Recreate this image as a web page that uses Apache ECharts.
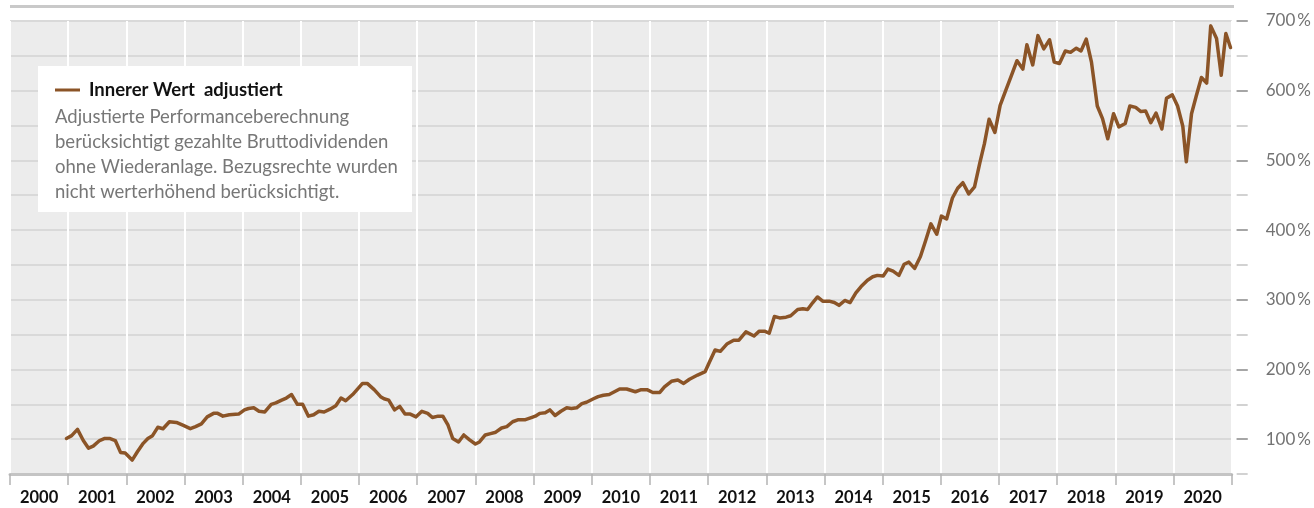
<!DOCTYPE html>
<html>
<head>
<meta charset="utf-8">
<script src="https://cdn.jsdelivr.net/npm/echarts@6.0.0/dist/echarts.min.js"></script>
<style>
  html, body { margin: 0; padding: 0; background: #fff; }
  #chart { width: 1314px; height: 508px; }
</style>
</head>
<body>
<div id="chart"></div>
<script>
// years on the bottom axis (labels sit between the year lines)
const years = ['2000', '2001', '2002', '2003', '2004', '2005', '2006', '2007', '2008', '2009', '2010',
  '2011', '2012', '2013', '2014', '2015', '2016', '2017', '2018', '2019', '2020'];

// time of each point as a decimal year
const time = [
  2000.97, 2001.06, 2001.16, 2001.26, 2001.35, 2001.43, 2001.54, 2001.63, 2001.71, 2001.81, 2001.90, 2001.98,
  2002.10, 2002.19, 2002.29, 2002.37, 2002.45, 2002.54, 2002.63, 2002.74, 2002.86, 2002.97,
  2003.10, 2003.19, 2003.29, 2003.39, 2003.50, 2003.57, 2003.66, 2003.77, 2003.93,
  2004.03, 2004.10, 2004.19, 2004.28, 2004.38, 2004.49, 2004.57, 2004.67, 2004.75, 2004.84, 2004.94,
  2005.03, 2005.13, 2005.22, 2005.31, 2005.40, 2005.50, 2005.60, 2005.69, 2005.77, 2005.89,
  2006.06, 2006.14, 2006.26, 2006.37, 2006.43, 2006.51, 2006.61, 2006.70, 2006.79, 2006.88, 2006.98,
  2007.08, 2007.18, 2007.26, 2007.36, 2007.44, 2007.53, 2007.61, 2007.71, 2007.80, 2007.90, 2008.00,
  2008.07, 2008.17, 2008.26, 2008.35, 2008.45, 2008.54, 2008.64, 2008.74, 2008.86, 2008.96,
  2009.03, 2009.11, 2009.20, 2009.28, 2009.37, 2009.47, 2009.57, 2009.65, 2009.74, 2009.83, 2009.91,
  2010.03, 2010.11, 2010.20, 2010.30, 2010.39, 2010.48, 2010.60, 2010.75, 2010.85, 2010.95,
  2011.05, 2011.17, 2011.25, 2011.37, 2011.48, 2011.58, 2011.68, 2011.82, 2011.95,
  2012.02, 2012.12, 2012.21, 2012.33, 2012.44, 2012.53, 2012.65, 2012.79, 2012.88, 2012.97,
  2013.05, 2013.14, 2013.23, 2013.34, 2013.42, 2013.54, 2013.63, 2013.71, 2013.80, 2013.88, 2013.97,
  2014.08, 2014.17, 2014.25, 2014.35, 2014.44, 2014.54, 2014.63, 2014.74, 2014.83, 2014.91,
  2015.01, 2015.09, 2015.18, 2015.28, 2015.37, 2015.45, 2015.55, 2015.65, 2015.74, 2015.83, 2015.93,
  2016.01, 2016.10, 2016.20, 2016.29, 2016.38, 2016.48, 2016.58, 2016.67, 2016.75, 2016.83, 2016.93,
  2017.02, 2017.12, 2017.21, 2017.31, 2017.41, 2017.48, 2017.58, 2017.67, 2017.77, 2017.87, 2017.95,
  2018.04, 2018.14, 2018.23, 2018.33, 2018.41, 2018.50, 2018.59, 2018.69, 2018.78, 2018.87, 2018.97,
  2019.06, 2019.17, 2019.25, 2019.35, 2019.44, 2019.52, 2019.61, 2019.70, 2019.80, 2019.88, 2019.98,
  2020.07, 2020.16, 2020.22, 2020.31, 2020.39, 2020.48, 2020.57, 2020.64, 2020.74, 2020.82, 2020.90, 2020.98
];

// Innerer Wert adjustiert, in percent
const innererWert = [
  101, 105, 114, 98, 87, 90, 98, 101, 101, 98, 81, 80,
  70, 82, 94, 101, 105, 117, 115, 125, 124, 120,
  115, 118, 122, 132, 137, 137, 133, 135, 136,
  142, 144, 145, 140, 139, 150, 152, 156, 159, 164, 150,
  150, 133, 135, 140, 139, 143, 148, 159, 155, 164,
  180, 180, 171, 161, 158, 156, 142, 147, 136, 136, 132,
  140, 137, 131, 133, 133, 120, 101, 96, 106, 99, 93,
  96, 106, 108, 110, 116, 118, 125, 128, 128, 131,
  133, 137, 138, 142, 134, 140, 145, 144, 145, 151, 153,
  158, 161, 163, 164, 168, 172, 172, 168, 171, 171,
  167, 167, 175, 183, 185, 180, 186, 192, 197,
  210, 228, 226, 237, 242, 242, 254, 248, 255, 255,
  252, 276, 274, 275, 277, 286, 287, 286, 296, 304, 298,
  298, 296, 292, 299, 296, 310, 319, 328, 333, 335,
  334, 344, 341, 335, 351, 354, 345, 362, 385, 409, 394,
  420, 416, 446, 460, 468, 452, 462, 496, 524, 559, 540,
  579, 601, 621, 643, 631, 666, 637, 679, 660, 673, 641,
  639, 657, 655, 661, 657, 674, 641, 578, 560, 531, 567,
  548, 553, 578, 576, 570, 571, 554, 568, 545, 589, 594,
  578, 549, 498, 567, 592, 619, 611, 693, 675, 622, 682, 662
];

const yLabels = [100, 200, 300, 400, 500, 600, 700];

const seriesName = 'Innerer Wert  adjustiert';
const noteLines = [
  'Adjustierte Performanceberechnung',
  'berücksichtigt gezahlte Bruttodividenden',
  'ohne Wiederanlage. Bezugsrechte wurden',
  'nicht werterhöhend berücksichtigt.'
];

const font = 'Lato, "Noto Sans", sans-serif';

const chart = echarts.init(document.getElementById('chart'));

const option = {
  animation: false,
  grid: {
    left: 10,
    right: 80,
    top: 21,
    bottom: 34,
    show: true,
    backgroundColor: '#ececec',
    borderWidth: 0
  },
  legend: {
    left: 55,
    top: 79,
    padding: 0,
    z: 20,
    icon: 'rect',
    itemWidth: 25,
    itemHeight: 3,
    data: [seriesName],
    textStyle: {
      fontFamily: font,
      fontWeight: 'bold',
      fontSize: 18.5,
      color: '#111',
      lineHeight: 22,
      padding: [0, 0, 0, 4]
    }
  },
  xAxis: [
    {
      type: 'value',
      min: 2000,
      max: 2021,
      interval: 1,
      axisLine: { show: true, lineStyle: { color: '#c4c4c4', width: 3 } },
      axisTick: { show: true, length: 11, lineStyle: { color: '#b4b4b4', width: 1.5 } },
      axisLabel: { show: false },
      splitLine: { show: true, lineStyle: { color: '#ffffff', width: 2 } }
    },
    {
      type: 'category',
      position: 'bottom',
      data: years,
      boundaryGap: true,
      axisLine: { show: false },
      axisTick: { show: false },
      splitLine: { show: false },
      axisLabel: {
        margin: 15,
        fontFamily: font,
        fontWeight: 'bold',
        fontSize: 16.5,
        color: '#111'
      }
    }
  ],
  yAxis: [
    {
      type: 'value',
      position: 'right',
      min: 50,
      max: 700,
      interval: 50,
      offset: 5,
      axisLine: { show: false },
      axisTick: { show: true, length: 11, lineStyle: { color: '#d2d2d2', width: 2 } },
      axisLabel: { show: false },
      splitLine: { show: true, lineStyle: { color: '#d9d9d9', width: 2 } }
    },
    {
      type: 'value',
      position: 'right',
      min: 50,
      max: 700,
      interval: 50,
      offset: 5,
      axisLine: { show: false },
      axisTick: { show: true, length: 11, customValues: yLabels, lineStyle: { color: '#a6a6a6', width: 2 } },
      axisLabel: {
        show: true,
        customValues: yLabels,
        margin: 29,
        fontFamily: font,
        fontSize: 17,
        color: '#737373',
        formatter: v => v + '\u2009%'
      },
      splitLine: { show: false }
    }
  ],
  graphic: [
    {
      type: 'line',
      shape: { x1: 10, y1: 6.5, x2: 1234, y2: 6.5 },
      style: { stroke: '#c9c9c9', lineWidth: 3 },
      z: 3
    },
    {
      type: 'rect',
      shape: { x: 38, y: 66, width: 374, height: 146 },
      style: { fill: '#ffffff' },
      z: 3
    },
    {
      type: 'text',
      left: 55,
      top: 105,
      z: 10,
      style: {
        text: noteLines.join('\n'),
        font: '18.5px ' + font,
        fill: '#777777',
        lineHeight: 25
      }
    }
  ],
  series: [
    {
      name: seriesName,
      type: 'line',
      xAxisIndex: 0,
      yAxisIndex: 0,
      showSymbol: false,
      color: '#8b5427',
      lineStyle: { color: '#8b5427', width: 3.5, cap: 'round', join: 'round' },
      data: time.map((t, i) => [t, innererWert[i]]),
      z: 5
    }
  ]
};

chart.setOption(option);
</script>
</body>
</html>
